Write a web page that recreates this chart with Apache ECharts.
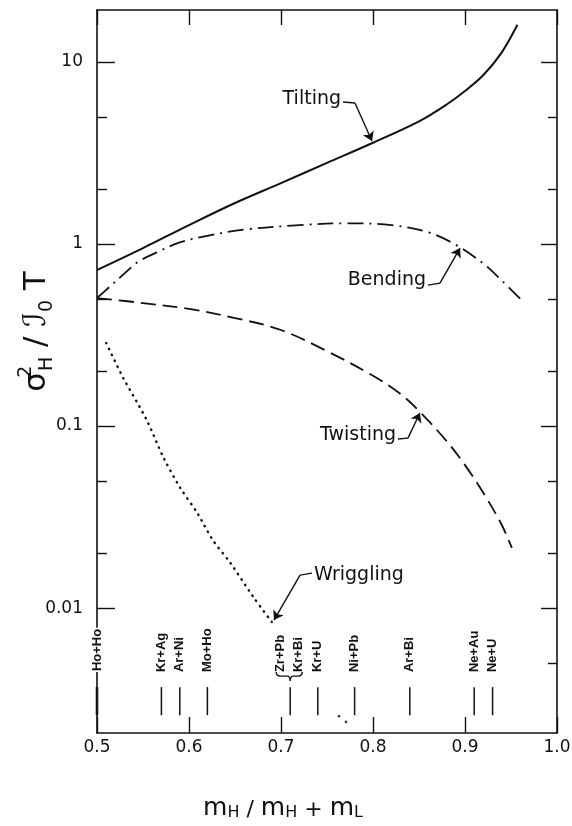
<!DOCTYPE html>
<html><head><meta charset="utf-8">
<script src="https://cdn.jsdelivr.net/npm/echarts@6/dist/echarts.min.js"></script>
<style>html,body{margin:0;padding:0;background:#fff}#c{width:572px;height:826px}</style>
</head><body><div id="c"></div>
<script>
// ---------- data ----------
const xTickValues = [0.5, 0.6, 0.7, 0.8, 0.9, 1.0];
const xTickLabels = ['0.5', '0.6', '0.7', '0.8', '0.9', '1.0'];
const yTickValues = [0.01, 0.1, 1, 10];
const yTickLabels = ['0.01', '0.1', '1', '10'];
const yMinorTickValues = [0.005, 0.02, 0.05, 0.2, 0.5, 2, 5];

const tiltingX = [0.5, 0.55, 0.6, 0.65, 0.7, 0.75, 0.8, 0.85, 0.88, 0.9, 0.92, 0.94, 0.957];
const tiltingY = [0.72, 0.95, 1.27, 1.68, 2.16, 2.79, 3.6, 4.72, 5.84, 6.93, 8.48, 11.3, 16];

const bendingX = [0.5, 0.515, 0.53, 0.545, 0.565, 0.59, 0.62, 0.66, 0.72, 0.77, 0.82, 0.86, 0.89, 0.92, 0.94, 0.96];
const bendingY = [0.505, 0.59, 0.69, 0.8, 0.9, 1.02, 1.11, 1.2, 1.27, 1.30, 1.27, 1.16, 0.99, 0.78, 0.63, 0.5];

const twistingX = [0.5, 0.55, 0.6, 0.65, 0.7, 0.75, 0.8, 0.83, 0.85, 0.88, 0.9, 0.92, 0.94, 0.951];
const twistingY = [0.505, 0.474, 0.44, 0.392, 0.337, 0.258, 0.189, 0.15, 0.121, 0.0827, 0.061, 0.0429, 0.0286, 0.0214];

const wrigglingX = [0.51, 0.528, 0.554, 0.572, 0.59, 0.609, 0.626, 0.645, 0.67, 0.69];
const wrigglingY = [0.286, 0.186, 0.108, 0.0676, 0.0462, 0.0333, 0.0236, 0.0177, 0.0115, 0.0084];
const wrigglingTailX = [0.763, 0.7707];
const wrigglingTailY = [0.00255, 0.00237];

const reactionNames = ['Ho+Ho', 'Kr+Ag', 'Ar+Ni', 'Mo+Ho', 'Zr+Pb', 'Kr+Bi', 'Kr+U', 'Ni+Pb', 'Ar+Bi', 'Ne+Au', 'Ne+U'];
const reactionX = [0.5, 0.57, 0.59, 0.62, 0.71, 0.71, 0.74, 0.78, 0.84, 0.91, 0.93];

const annotationNames = ['Tilting', 'Bending', 'Twisting', 'Wriggling'];
const hookStartX = [0.7674, 0.8598, 0.8272, 0.7337];
const hookStartY = [6.03, 0.595, 0.0849, 0.01557];
const hookEndX = [0.7804, 0.8728, 0.838, 0.7207];
const hookEndY = [5.95, 0.61, 0.0859, 0.01518];
const arrowTipX = [0.7989, 0.8946, 0.851, 0.6924];
const arrowTipY = [3.68, 0.95, 0.118, 0.00859];

// ---------- layout / style ----------
const Y_MIN = 0.00206, Y_MAX = 19.3;
const REACTION_LABEL_Y = 0.00445, BAR_TOP = 0.00368, BAR_BOTTOM = 0.00258, BRACE_Y = 0.00445;
const reactionLabelDx = [0, 0, 0, 0, -10, 8, 0, 0, 0, 0, 0];
const annotationAlign = ['right', 'right', 'right', 'left'];
const annotationDx = [-2, -2, -2, 2];
const annotationDy = [-3, -5, -4, 2];
const FONT = 'DejaVu Sans';
const BLACK = '#111';

const gridRect = { left: 97, right: 15, top: 10, bottom: 93, containLabel: false, outerBoundsMode: 'none' };

function lookup(vals, labels, v, log) {
  const i = vals.findIndex(t => log ? Math.abs(Math.log10(t) - Math.log10(v)) < 1e-6 : Math.abs(t - v) < 1e-6);
  return i >= 0 ? labels[i] : '';
}
const zip = (xs, ys) => xs.map((x, i) => [x, ys[i]]);

const baseX = { type: 'value', min: 0.5, max: 1.0, interval: 0.1, splitLine: { show: false } };
const baseY = { type: 'log', logBase: 10, min: Y_MIN, max: Y_MAX, splitLine: { show: false }, minorTick: { show: false } };
const lineAxis = { show: true, onZero: false, lineStyle: { color: BLACK, width: 1.6 } };

const option = {
  animation: false,
  backgroundColor: '#fff',
  grid: [Object.assign({}, gridRect), Object.assign({}, gridRect)],
  xAxis: [
    Object.assign({}, baseX, {
      gridIndex: 0, position: 'bottom',
      axisLine: lineAxis,
      axisTick: { show: true, inside: true, length: 16, lineStyle: { color: BLACK, width: 1.4 } },
      axisLabel: { show: true, margin: 6, color: BLACK, fontSize: 17, fontFamily: FONT,
        customValues: xTickValues, formatter: v => lookup(xTickValues, xTickLabels, v, false) },
      name: '{m|m}{sub|H}{t| / }{m|m}{sub|H}{t| + }{m|m}{sub|L}',
      nameLocation: 'middle', nameGap: 58, nameMoveOverlap: false,
      nameTextStyle: { padding: [0, 88, 0, 0], color: BLACK,
        rich: {
          m: { fontSize: 25, fontFamily: FONT, color: BLACK, verticalAlign: 'bottom', lineHeight: 30 },
          t: { fontSize: 22, fontFamily: FONT, color: BLACK, verticalAlign: 'bottom', lineHeight: 30 },
          sub: { fontSize: 16, fontFamily: FONT, color: BLACK, verticalAlign: 'bottom', lineHeight: 24 }
        } }
    }),
    Object.assign({}, baseX, {
      gridIndex: 0, position: 'top',
      axisLine: lineAxis,
      axisTick: { show: true, inside: true, length: 15, lineStyle: { color: BLACK, width: 1.4 } },
      axisLabel: { show: false }
    }),
    Object.assign({}, baseX, { gridIndex: 1, show: false })
  ],
  yAxis: [
    Object.assign({}, baseY, {
      gridIndex: 0, position: 'left',
      axisLine: lineAxis,
      axisTick: { show: true, inside: true, length: 18, customValues: yTickValues, lineStyle: { color: BLACK, width: 1.4 } },
      axisLabel: { show: true, margin: 14, color: BLACK, fontSize: 17, fontFamily: FONT,
        customValues: yTickValues, formatter: v => lookup(yTickValues, yTickLabels, v, true) },
      name: '{s|σ}{sup|2}{sub|H}{s| / }{s|ℐ}{sub|0}{s| T}',
      nameLocation: 'middle', nameRotate: 90, nameGap: 40, nameMoveOverlap: false,
      nameTextStyle: { padding: [0, 0, 0, 80], color: BLACK,
        rich: {
          s: { fontSize: 31, fontFamily: FONT, color: BLACK, lineHeight: 40, verticalAlign: 'middle' },
          sup: { fontSize: 19, fontFamily: FONT, color: BLACK, lineHeight: 40, verticalAlign: 'top', width: 1 },
          sub: { fontSize: 19, fontFamily: FONT, color: BLACK, lineHeight: 30, verticalAlign: 'bottom' }
        } }
    }),
    Object.assign({}, baseY, {
      gridIndex: 0, position: 'right',
      axisLine: lineAxis,
      axisTick: { show: true, inside: true, length: 16, customValues: yTickValues, lineStyle: { color: BLACK, width: 1.4 } },
      axisLabel: { show: false }
    }),
    Object.assign({}, baseY, {
      gridIndex: 1, position: 'left',
      axisLine: { show: false },
      axisTick: { show: true, inside: true, length: 10, customValues: yMinorTickValues, lineStyle: { color: BLACK, width: 1.4 } },
      axisLabel: { show: false }
    }),
    Object.assign({}, baseY, {
      gridIndex: 1, position: 'right',
      axisLine: { show: false },
      axisTick: { show: true, inside: true, length: 9, customValues: yMinorTickValues, lineStyle: { color: BLACK, width: 1.4 } },
      axisLabel: { show: false }
    })
  ],
  series: [
    { name: 'Tilting', type: 'line', xAxisIndex: 0, yAxisIndex: 0, data: zip(tiltingX, tiltingY),
      smooth: 0.35, showSymbol: false, lineStyle: { color: BLACK, width: 2 } },
    { name: 'Bending', type: 'line', xAxisIndex: 0, yAxisIndex: 0, data: zip(bendingX, bendingY),
      smooth: 0.35, showSymbol: false, lineStyle: { color: BLACK, width: 1.8, type: [16, 6, 2, 6] } },
    { name: 'Twisting', type: 'line', xAxisIndex: 0, yAxisIndex: 0, data: zip(twistingX, twistingY),
      smooth: 0.35, showSymbol: false, lineStyle: { color: BLACK, width: 1.8, type: [15, 7] } },
    { name: 'Wriggling', type: 'line', xAxisIndex: 0, yAxisIndex: 0, data: zip(wrigglingX, wrigglingY),
      smooth: 0.3, showSymbol: false, lineStyle: { color: BLACK, width: 2.4, type: [0.5, 6], cap: 'round' } },
    { name: 'WrigglingTail', type: 'scatter', xAxisIndex: 0, yAxisIndex: 0, data: zip(wrigglingTailX, wrigglingTailY),
      symbolSize: 2.8, itemStyle: { color: BLACK } },
    // reaction bars
    { type: 'custom', xAxisIndex: 0, yAxisIndex: 0,
      data: [...new Set(reactionX)].map(x => [x, BAR_TOP]),
      renderItem: (params, api) => {
        const p1 = api.coord([api.value(0), BAR_TOP]);
        const p2 = api.coord([api.value(0), BAR_BOTTOM]);
        return { type: 'line', shape: { x1: p1[0], y1: p1[1], x2: p2[0], y2: p2[1] },
          style: { stroke: BLACK, lineWidth: params.dataIndex === 0 ? 2.6 : 1.5 } };
      } },
    // reaction labels
    { type: 'custom', xAxisIndex: 0, yAxisIndex: 0,
      data: reactionX.map(x => [x, REACTION_LABEL_Y]),
      renderItem: (params, api) => {
        const i = params.dataIndex;
        const p = api.coord([api.value(0), api.value(1)]);
        return { type: 'text', x: p[0] + reactionLabelDx[i], y: p[1], rotation: Math.PI / 2,
          style: { text: reactionNames[i], x: 0, y: 0, align: 'left', verticalAlign: 'middle',
            font: 'bold 13px "Liberation Sans"', fill: BLACK,
            backgroundColor: i === 0 ? '#fff' : null, padding: i === 0 ? [2, 1, 6, 1] : 0 } };
      } },
    // brace joining Zr+Pb and Kr+Bi
    { type: 'custom', xAxisIndex: 0, yAxisIndex: 0,
      data: [[reactionX[4], BRACE_Y]],
      renderItem: (params, api) => {
        const p = api.coord([api.value(0), api.value(1)]);
        const xc = p[0], y = p[1];
        const x0 = xc + reactionLabelDx[4] - 4, x1 = xc + reactionLabelDx[5] + 4;
        const d = `M${x0},${y} Q${x0},${y + 4} ${x0 + 4},${y + 4} L${xc - 3},${y + 4} Q${xc},${y + 4} ${xc},${y + 9} ` +
                  `Q${xc},${y + 4} ${xc + 3},${y + 4} L${x1 - 4},${y + 4} Q${x1},${y + 4} ${x1},${y}`;
        return { type: 'path', shape: { pathData: d }, style: { stroke: BLACK, fill: null, lineWidth: 1.4 } };
      } },
    // annotation hooks
    { type: 'lines', coordinateSystem: 'cartesian2d', xAxisIndex: 0, yAxisIndex: 0,
      data: annotationNames.map((n, i) => ({ coords: [[hookStartX[i], hookStartY[i]], [hookEndX[i], hookEndY[i]]] })),
      symbol: 'none', lineStyle: { color: BLACK, width: 1.4, opacity: 1, curveness: 0 } },
    // annotation arrows
    { type: 'lines', coordinateSystem: 'cartesian2d', xAxisIndex: 0, yAxisIndex: 0,
      data: annotationNames.map((n, i) => ({ coords: [[hookEndX[i], hookEndY[i]], [arrowTipX[i], arrowTipY[i]]] })),
      symbol: ['none', 'arrow'], symbolSize: 9, lineStyle: { color: BLACK, width: 1.4, opacity: 1, curveness: 0 } },
    // annotation texts
    { type: 'custom', xAxisIndex: 0, yAxisIndex: 0,
      data: annotationNames.map((n, i) => [hookStartX[i], hookStartY[i]]),
      renderItem: (params, api) => {
        const i = params.dataIndex;
        const p = api.coord([api.value(0), api.value(1)]);
        return { type: 'text', x: p[0] + annotationDx[i], y: p[1] + annotationDy[i],
          style: { text: annotationNames[i], x: 0, y: 0, align: annotationAlign[i], verticalAlign: 'middle',
            font: '19px "DejaVu Sans"', fill: BLACK } };
      } }
  ]
};

const chart = echarts.init(document.getElementById('c'), null, { renderer: 'canvas' });
chart.setOption(option);
</script>
</body></html>
